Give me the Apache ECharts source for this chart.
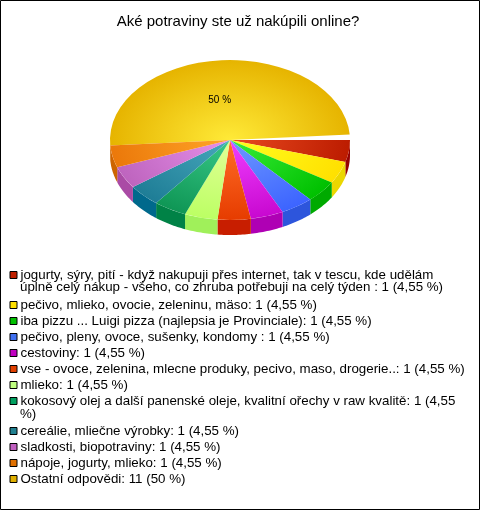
<!DOCTYPE html>
<html><head><meta charset="utf-8">
<style>html,body{margin:0;padding:0;background:#fff}#c{width:480px;height:510px}</style>
<script src="https://cdn.jsdelivr.net/npm/echarts@6/dist/echarts.min.js"></script>
</head><body><div id="c"></div>
<script>
const titleText = 'Aké potraviny ste už nakúpili online?';
const categories = [
  'jogurty, sýry, pití - když nakupuji přes internet, tak v tescu, kde udělám',
  'pečivo, mlieko, ovocie, zeleninu, mäso: 1 (4,55 %)',
  'iba pizzu ... Luigi pizza (najlepsia je Provinciale): 1 (4,55 %)',
  'pečivo, pleny, ovoce, sušenky, kondomy : 1 (4,55 %)',
  'cestoviny: 1 (4,55 %)',
  'vse - ovoce, zelenina, mlecne produky, pecivo, maso, drogerie..: 1 (4,55 %)',
  'mlieko: 1 (4,55 %)',
  'kokosový olej a další panenské oleje, kvalitní ořechy v raw kvalitě: 1 (4,55',
  'cereálie, mliečne výrobky: 1 (4,55 %)',
  'sladkosti, biopotraviny: 1 (4,55 %)',
  'nápoje, jogurty, mlieko: 1 (4,55 %)',
  'Ostatní odpovědi: 11 (50 %)'
];
const wrappedLines = [
  'úplně celý nákup - všeho, co zhruba potřebuji na celý týden : 1 (4,55 %)',
  '%)'
];
const values = [1,1,1,1,1,1,1,1,1,1,1,11];
const legendColors = ['#c02000','#ffe000','#00c000','#4070f0','#c000c0','#e04000','#c0ff80','#00a060','#208090','#c060c0','#e07000','#e0b000'];
const innerColors = ['#e84a20','#ffff20','#38ec38','#6e98ff','#f040ff','#ff6e28','#e2ff98','#38c888','#48a8bc','#e690ea','#ffa628','#ffea38'];
const rimColors = ['#bc1c00','#ffe000','#00c000','#3c64ff','#c808d0','#e63c00','#bcff64','#0f9655','#1e7d96','#be64be','#eb780a','#e6b400'];
const wallColors = ['#960000','#ebd700','#00aa00','#2d55dc','#af00b4','#c81e00','#a0f05a','#008246','#00698c','#aa4ba5','#cd6400','#c89600'];
const labelText = '50 %';

const cx = 230, cy = 140, R = 120, squash = 80 / 120, depth = 15;
const smallSliceScale = 176 / 180;      // the small slices are drawn slightly narrow
const total = values.reduce((a, b) => a + b, 0);
const rad = d => d * Math.PI / 180;

function sweepOf(i, v) {
  const s = v / total * 360;
  return i < values.length - 1 ? s * smallSliceScale : s;
}
function startOf(i) {
  let a = 0;
  for (let k = 0; k < i; k++) a += sweepOf(k, values[k]);
  return a;
}
function wallPoints(a0, a1) {
  const s = Math.max(a0, 0), e = Math.min(a1, 180);
  if (e <= s) return null;
  const pts = [], n = 16;
  for (let k = 0; k <= n; k++) {
    const a = rad(s + (e - s) * k / n);
    pts.push([cx + R * Math.cos(a), cy + R * squash * Math.sin(a)]);
  }
  for (let k = n; k >= 0; k--) pts.push([pts[k][0], pts[k][1] + depth]);
  return pts;
}
function makeRender(i) {
  return function (params, api) {
    const v = api.value(0);
    const a0 = startOf(i), a1 = a0 + sweepOf(i, v);
    const children = [];
    const pts = wallPoints(a0, a1);
    if (pts) children.push({ type: 'polygon', shape: { points: pts }, style: { fill: wallColors[i] } });
    children.push({
      type: 'sector',
      shape: { cx, cy, r: R, r0: 0, startAngle: rad(a0), endAngle: rad(a1), clockwise: true },
      originX: cx, originY: cy, scaleY: squash,
      style: { fill: { type: 'radial', x: cx, y: cy, r: R, global: true,
        colorStops: [{ offset: 0, color: innerColors[i] }, { offset: 1, color: rimColors[i] }] } }
    });
    if (i === values.length - 1) {
      const m = rad((a0 + a1) / 2);
      children.push({
        type: 'text',
        style: { text: labelText, x: cx + R * 0.52 * Math.cos(m) - 6, y: cy + R * squash * 0.52 * Math.sin(m) + 2,
          align: 'center', verticalAlign: 'middle', font: '10px Arial, "Liberation Sans"', fill: '#000' }
      });
    }
    return { type: 'group', children };
  };
}
const series = values.map((v, i) => ({
  type: 'custom', name: categories[i], coordinateSystem: 'none',
  data: [[v]], renderItem: makeRender(i), silent: true, animation: false,
  z: i === values.length - 1 ? 1 : 2,
  itemStyle: { color: legendColors[i] }
}));
const legendFont = 13.33;
function legendGroup(from, to, top) {
  return {
    left: 9.5, top, orient: 'vertical', padding: 0, itemGap: 2, itemWidth: 7, itemHeight: 7, icon: 'rect',
    selectedMode: false,
    data: categories.slice(from, to),
    itemStyle: { borderColor: '#000', borderWidth: 1 },
    textStyle: { color: '#000', fontFamily: 'Arial, "Liberation Sans"', fontSize: legendFont, lineHeight: 14, padding: [0,0,0,-1.5] }
  };
}
const chart = echarts.init(document.getElementById('c'), null, { renderer: 'canvas' });
chart.setOption({
  backgroundColor: '#fff', animation: false,
  title: { text: titleText, left: 238, top: 14, textAlign: 'center', padding: 0,
    textStyle: { fontFamily: 'Arial, "Liberation Sans"', fontSize: 15, fontWeight: 'normal', color: '#000' } },
  legend: [legendGroup(0, 1, 268), legendGroup(1, 8, 298), legendGroup(8, 12, 424)],
  series,
  graphic: [
    { type: 'text', left: 20, top: 281, style: { text: wrappedLines[0], font: legendFont + 'px Arial, "Liberation Sans"', fill: '#000' } },
    { type: 'text', left: 20, top: 408, style: { text: wrappedLines[1], font: legendFont + 'px Arial, "Liberation Sans"', fill: '#000' } },
    { type: 'rect', shape: { x: 0.5, y: 0.5, width: 479, height: 509 }, style: { fill: 'none', stroke: '#000', lineWidth: 1 }, silent: true, z: 100 }
  ]
});
</script></body></html>
